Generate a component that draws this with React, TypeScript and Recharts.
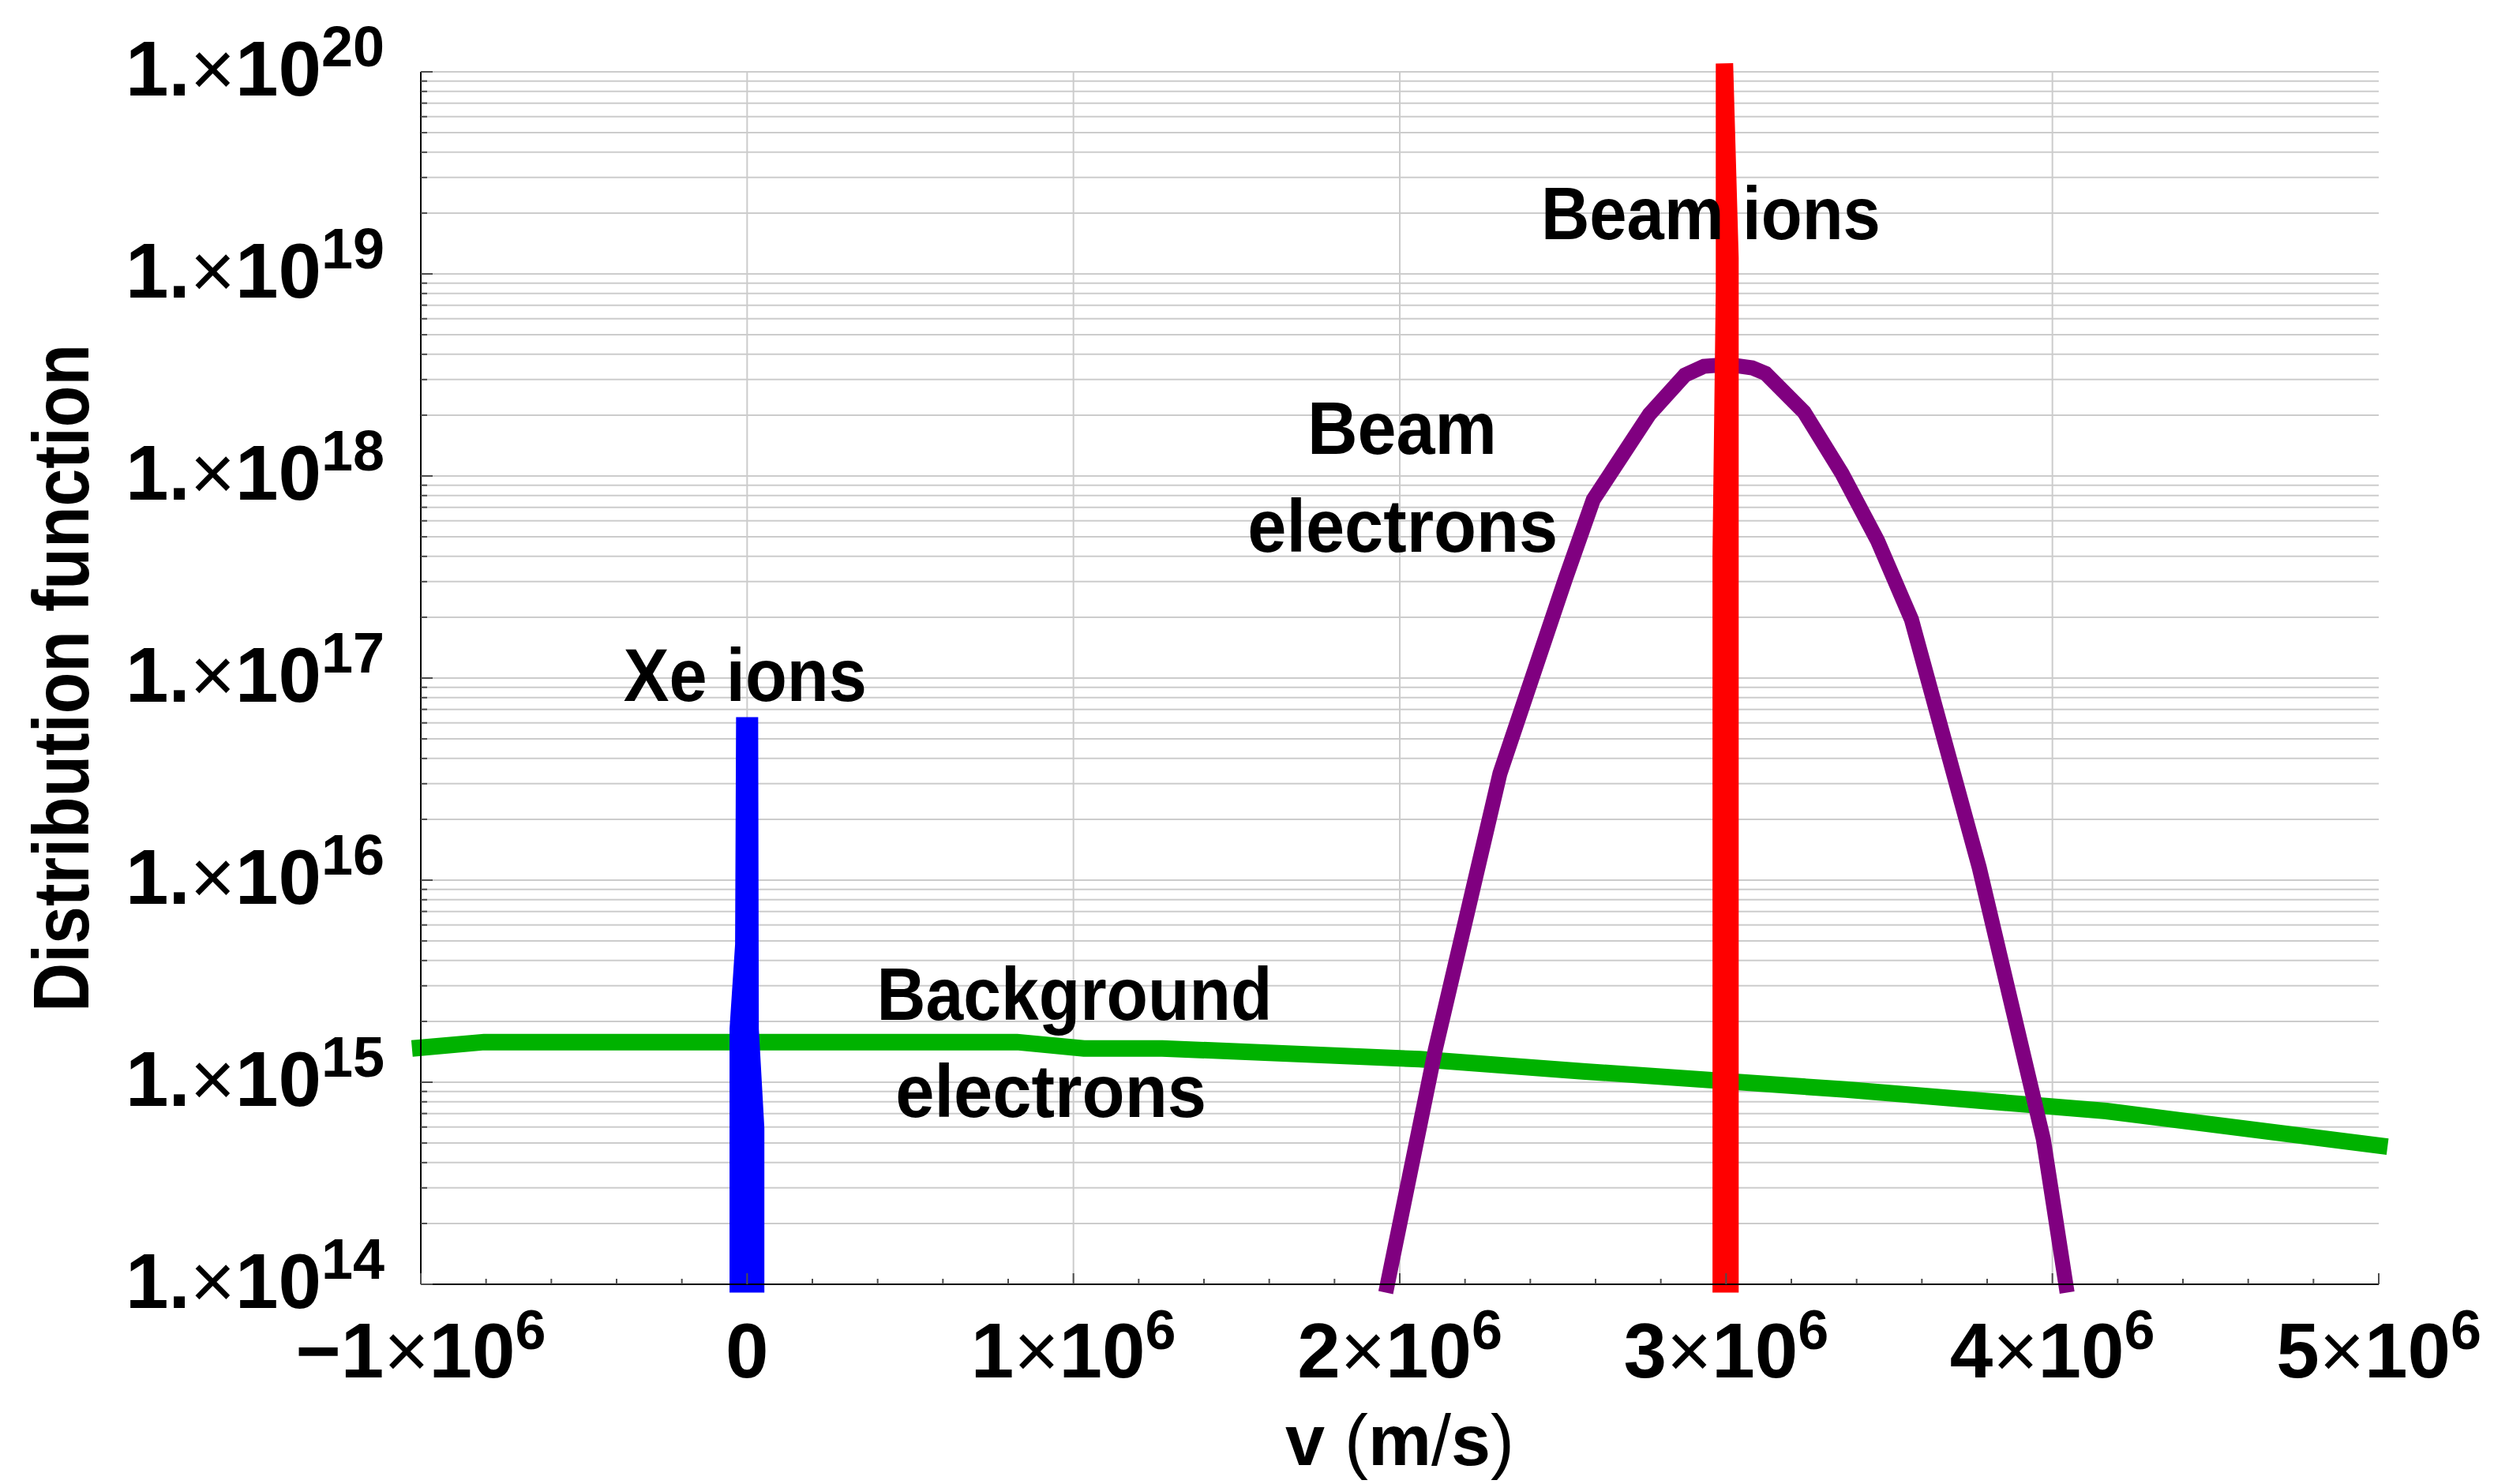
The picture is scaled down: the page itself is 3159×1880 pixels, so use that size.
import React from 'react'
import { LineChart, Line, XAxis, YAxis, CartesianGrid, ReferenceDot } from 'recharts'

const FONT = '"Liberation Sans", Arial, Helvetica, sans-serif'
const WIDTH = 3159
const HEIGHT = 1880

const COLORS = {
  background: '#00b200',
  xe: '#0000ff',
  beamElectrons: '#800080',
  beamIons: '#ff0000',
  grid: '#cccccc',
  tick: '#4d4d4d',
  axis: '#000000',
}

// v in m/s, f = distribution function (log axis)
const backgroundElectrons = [
  { v: -1.027e6, f: 1.47e15 },
  { v: -0.806e6, f: 1.58e15 },
  { v: 0.827e6, f: 1.58e15 },
  { v: 1.032e6, f: 1.47e15 },
  { v: 1.272e6, f: 1.47e15 },
  { v: 2.061e6, f: 1.3e15 },
  { v: 2.569e6, f: 1.13e15 },
  { v: 3.367e6, f: 9.2e14 },
  { v: 4.165e6, f: 7.2e14 },
  { v: 5.027e6, f: 4.8e14 },
]

const xeIons = [
  { v: -0.02e6, f: 9.1e13 },
  { v: -0.02e6, f: 1.83e15 },
  { v: -0.003e6, f: 4.8e15 },
  { v: 0, f: 6.4e16 },
  { v: 0.002e6, f: 1.83e15 },
  { v: 0.019e6, f: 5.9e14 },
  { v: 0.019e6, f: 9.1e13 },
]

const beamElectrons = [
  { v: 1.957e6, f: 9.1e13 },
  { v: 2.109e6, f: 1.45e15 },
  { v: 2.307e6, f: 3.37e16 },
  { v: 2.508e6, f: 3.11e17 },
  { v: 2.593e6, f: 7.63e17 },
  { v: 2.765e6, f: 2.02e18 },
  { v: 2.874e6, f: 3.16e18 },
  { v: 2.932e6, f: 3.49e18 },
  { v: 3.007e6, f: 3.56e18 },
  { v: 3.08e6, f: 3.43e18 },
  { v: 3.121e6, f: 3.22e18 },
  { v: 3.239e6, f: 2.07e18 },
  { v: 3.355e6, f: 1.03e18 },
  { v: 3.464e6, f: 4.79e17 },
  { v: 3.568e6, f: 1.95e17 },
  { v: 3.776e6, f: 1.15e16 },
  { v: 3.972e6, f: 5.24e14 },
  { v: 4.045e6, f: 9.1e13 },
]

const beamIons = [
  { v: 2.985e6, f: 9.1e13 },
  { v: 2.985e6, f: 4.2e17 },
  { v: 2.995e6, f: 8.4e18 },
  { v: 2.995e6, f: 1.1e20 },
  { v: 3.012e6, f: 1.2e19 },
  { v: 3.012e6, f: 9.1e13 },
]

const ANNOTATIONS = [
  { caption: 'Beam ions', v: 2.953e6, f: 1.49e19, span: 430 },
  { caption: 'Beam', v: 2.007e6, f: 1.29e18, span: 240 },
  { caption: 'electrons', v: 2.009e6, f: 4.22e17, span: 393 },
  { caption: 'Xe ions', v: -0.006e6, f: 7.7e16, span: 308 },
  { caption: 'Background', v: 1.003e6, f: 2.04e15, span: 501 },
  { caption: 'electrons', v: 0.931e6, f: 6.73e14, span: 394 },
]

const X_DOMAIN = [-1e6, 5e6]
const Y_DOMAIN = [1e14, 1e20]
const X_MAJOR = [-1, 0, 1, 2, 3, 4, 5]
const X_MINOR_STEPS = [0, 0.2, 0.4, 0.6, 0.8]
const X_GRID = [0, 1e6, 2e6, 3e6, 4e6]
const Y_DECADES = [14, 15, 16, 17, 18, 19, 20]
const Y_MULTIPLES = [1, 2, 3, 4, 5, 6, 7, 8, 9]

const xTicks: number[] = []
X_MAJOR.forEach((m, i) => {
  if (i === X_MAJOR.length - 1) {
    xTicks.push(m * 1e6)
    return
  }
  X_MINOR_STEPS.forEach((s) => xTicks.push((m + s) * 1e6))
})

const yTicks: number[] = []
Y_DECADES.forEach((d, i) => {
  if (i === Y_DECADES.length - 1) {
    yTicks.push(10 ** d)
    return
  }
  Y_MULTIPLES.forEach((k) => yTicks.push(k * 10 ** d))
})

function XTick({ x, y, payload }: any): React.ReactElement {
  const m = payload.value / 1e6
  const n = Math.round(m)
  const major = Math.abs(m - n) < 1e-6
  return (
    <g>
      <line x1={x} x2={x} y1={y} y2={y - (major ? 14 : 7)} stroke={COLORS.tick} strokeWidth={2} />
      {major && (
        <text
          x={x}
          y={y + 118}
          textAnchor="middle"
          fontFamily={FONT}
          fontWeight="bold"
          fontSize={98}
          fill="#000"
        >
          {n === 0 ? (
            <tspan>0</tspan>
          ) : (
            <>
              <tspan>{(n < 0 ? '\u2212' : '') + Math.abs(n)}</tspan>
              <tspan fontWeight="normal">×</tspan>
              <tspan>10</tspan>
              <tspan fontSize={70} dy={-36}>
                6
              </tspan>
            </>
          )}
        </text>
      )}
    </g>
  )
}

function YTick({ x, y, payload }: any): React.ReactElement {
  const value = payload.value
  const exp = Math.floor(Math.log10(value) + 1e-9)
  const decade = Math.abs(value / 10 ** exp - 1) < 1e-6
  return (
    <g>
      <line x1={x} x2={x + (decade ? 15 : 8)} y1={y} y2={y} stroke={COLORS.tick} strokeWidth={2} />
      {decade && (
        <text
          x={x - 46}
          y={y + 30}
          textAnchor="end"
          fontFamily={FONT}
          fontWeight="bold"
          fontSize={98}
          fill="#000"
        >
          <tspan>1.</tspan>
          <tspan fontWeight="normal">×</tspan>
          <tspan>10</tspan>
          <tspan fontSize={72} dy={-37}>
            {exp}
          </tspan>
        </text>
      )}
    </g>
  )
}

function XTitle({ viewBox }: any): React.ReactElement {
  return (
    <text
      x={viewBox.x + viewBox.width / 2}
      y={viewBox.y + 229}
      textAnchor="middle"
      fontFamily={FONT}
      fontWeight="bold"
      fontSize={90}
      fill="#000"
    >
      <tspan>v </tspan>
      <tspan fontWeight="normal">(</tspan>
      <tspan>m</tspan>
      <tspan fontWeight="normal">/</tspan>
      <tspan>s</tspan>
      <tspan fontWeight="normal">)</tspan>
    </text>
  )
}

function YTitle({ viewBox }: any): React.ReactElement {
  const x = viewBox.x + 112
  const y = viewBox.y + viewBox.height / 2
  return (
    <text
      x={x}
      y={y}
      transform={`rotate(-90, ${x}, ${y})`}
      textAnchor="middle"
      fontFamily={FONT}
      fontWeight="bold"
      fontSize={100}
      textLength={846}
      lengthAdjust="spacingAndGlyphs"
      fill="#000"
    >
      Distribution function
    </text>
  )
}

function AnnotationText({ viewBox, caption, span }: any): React.ReactElement {
  return (
    <text
      x={viewBox.x + viewBox.width / 2}
      y={viewBox.y + viewBox.height / 2}
      textAnchor="middle"
      fontFamily={FONT}
      fontWeight="bold"
      fontSize={94}
      textLength={span}
      lengthAdjust="spacingAndGlyphs"
      fill="#000"
    >
      {caption}
    </text>
  )
}

export default function App(): React.ReactElement {
  return (
    <div style={{ position: 'absolute', left: 0, top: 0, width: WIDTH, height: HEIGHT, background: '#fff' }}>
      <style>{'.recharts-line [clip-path]{clip-path:none !important}'}</style>
      <LineChart width={WIDTH} height={HEIGHT} margin={{ top: 91, right: 146, bottom: 0, left: 0 }}>
        <CartesianGrid
          stroke={COLORS.grid}
          strokeWidth={2}
          verticalValues={X_GRID}
        />
        <XAxis
          dataKey="v"
          type="number"
          domain={X_DOMAIN}
          allowDataOverflow
          ticks={xTicks}
          interval={0}
          tick={<XTick />}
          tickLine={false}
          tickSize={0}
          tickMargin={0}
          height={253}
          axisLine={{ stroke: COLORS.axis, strokeWidth: 2 }}
          label={<XTitle />}
        />
        <XAxis
          xAxisId="top"
          orientation="top"
          type="number"
          domain={[0, 1]}
          height={0}
          tick={false}
          tickLine={false}
          axisLine={{ stroke: COLORS.axis, strokeWidth: 2 }}
        />
        <YAxis
          type="number"
          scale="log"
          domain={Y_DOMAIN}
          allowDataOverflow
          ticks={yTicks}
          interval={0}
          tick={<YTick />}
          tickLine={false}
          tickSize={0}
          tickMargin={0}
          width={533}
          axisLine={{ stroke: COLORS.axis, strokeWidth: 2 }}
          label={<YTitle />}
        />
        <YAxis
          yAxisId="right"
          orientation="right"
          type="number"
          domain={[0, 1]}
          width={0}
          tick={false}
          tickLine={false}
          axisLine={{ stroke: COLORS.axis, strokeWidth: 2 }}
        />
        {ANNOTATIONS.map((a, i) => (
          <ReferenceDot
            key={i}
            x={a.v}
            y={a.f}
            r={0}
            fill="none"
            stroke="none"
            label={<AnnotationText caption={a.caption} span={a.span} />}
          />
        ))}
        <Line
          data={backgroundElectrons}
          dataKey="f"
          type="linear"
          stroke={COLORS.background}
          strokeWidth={21}
          dot={false}
          activeDot={false}
          isAnimationActive={false}
        />
        <Line
          data={xeIons}
          dataKey="f"
          type="linear"
          stroke={COLORS.xe}
          strokeWidth={28}
          dot={false}
          activeDot={false}
          isAnimationActive={false}
        />
        <Line
          data={beamElectrons}
          dataKey="f"
          type="linear"
          stroke={COLORS.beamElectrons}
          strokeWidth={19}
          dot={false}
          activeDot={false}
          isAnimationActive={false}
        />
        <Line
          data={beamIons}
          dataKey="f"
          type="linear"
          stroke={COLORS.beamIons}
          strokeWidth={22}
          dot={false}
          activeDot={false}
          isAnimationActive={false}
        />
      </LineChart>
    </div>
  )
}
